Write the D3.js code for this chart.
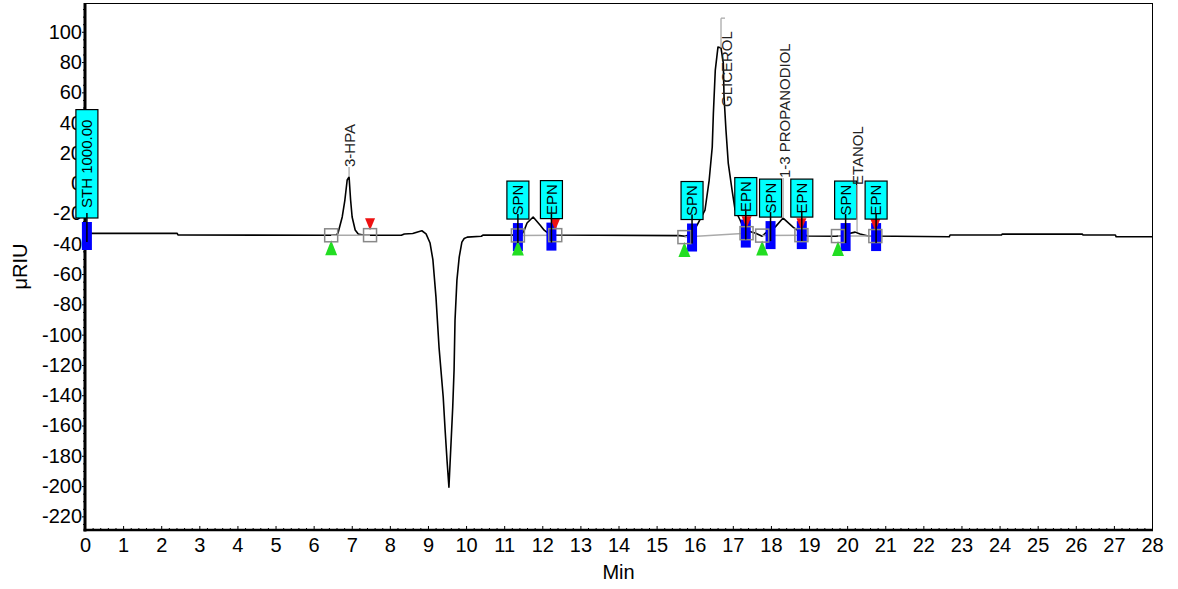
<!DOCTYPE html>
<html><head><meta charset="utf-8">
<script src="https://cdn.jsdelivr.net/npm/d3@7"></script>
<style>
body{margin:0;background:#fff}
svg{display:block}
text{font-family:"Liberation Sans",Arial,Helvetica,sans-serif}
</style>
</head><body>
<svg id="c" width="1178" height="589"></svg>
<script>
// ---- data ----
const traceTime = [0,2.42,2.44,6.45,6.6,6.64,6.75,6.82,6.88,6.93,6.97,7.01,7.09,7.17,7.3,8.3,8.38,8.6,8.75,8.84,8.95,9.055,9.13,9.21,9.29,9.40,9.45,9.50,9.55,9.60,9.65,9.685,9.71,9.76,9.82,9.89,9.95,10.03,10.4,10.45,11.45,11.52,11.6,11.76,11.94,12.05,12.15,12.3,15.6,15.75,15.9,16.0,16.09,16.27,16.38,16.46,16.49,16.54,16.61,16.69,16.75,16.77,16.82,16.88,16.98,17.06,17.19,17.27,17.4,17.6,17.77,17.9,18.11,18.32,18.58,18.77,18.95,19.7,19.9,20.0,20.21,20.34,20.55,22.68,22.7,24.05,24.07,26.17,26.19,27.04,27.06,28];
const traceSignal = [-33.1,-33.1,-34.2,-34.4,-34.0,-32.9,-22.3,-11.1,2.1,4.1,-11.1,-22.3,-30.9,-33.6,-34.3,-34.4,-33.5,-33.2,-32.0,-31.4,-33.5,-39.5,-50.7,-75.2,-108.2,-141.2,-163,-182.9,-200.7,-174.3,-147.8,-123.4,-90.4,-64,-48.8,-38.9,-36.5,-35.6,-35.0,-34.2,-34.3,-31.5,-26.3,-22.3,-27.6,-31.0,-32.9,-34.2,-34.6,-35.0,-33.5,-30.5,-26.3,-17.7,2.1,23.9,46.3,74.7,89.9,89.3,79.4,56.9,35.1,13.3,-4.5,-17.7,-24.3,-29,-31.5,-33,-35,-32,-29,-23,-29,-32.3,-34.9,-35.0,-34.5,-33.6,-32.3,-33.6,-34.9,-35.4,-34.2,-34.2,-33.6,-33.6,-34.2,-34.2,-35.4,-35.4];

const xTickLabels = [0,1,2,3,4,5,6,7,8,9,10,11,12,13,14,15,16,17,18,19,20,21,22,23,24,25,26,27,28];
const yTickLabels = [100,80,60,40,20,0,-20,-40,-60,-80,-100,-120,-140,-160,-180,-200,-220];

// timed events (blue bars with cyan tags)
const eventLabels = ["STH 1000.00","SPN","EPN","SPN","EPN","SPN","EPN","SPN","EPN"];
const eventTimes  = [0.05,11.36,12.24,15.93,17.34,17.99,18.81,19.96,20.76];
const eventValues = [-34.2,-34.9,-34.6,-35.2,-32.6,-33.6,-33.6,-34.9,-34.9];

// integration start / end marks
const startTimes  = [6.46,11.36,15.73,17.77,19.76];
const startValues = [-34.4,-34.5,-35.6,-34.6,-34.9];
const endTimes    = [7.48,12.34,17.36,18.80,20.74];
const endValues   = [-34.3,-34.3,-33.0,-34.3,-34.9];

// named peaks
const peakNames       = ["3-HPA","GLICEROL","1-3 PROPANODIOL","ETANOL"];
const peakTimes       = [6.93,16.69,18.32,20.26];
const peakValues      = [4.1,89.5,-23,-32.3];
const peakLabelTimes  = [6.955,16.85,18.37,20.29];
const peakLabelValues = [10.7,50.3,3.4,-1.2];
const peakLineTops    = [10.7,109,3.4,-1.2];

// ---- chart ----
const svg = d3.select("#c");
const L = 85, R = 1152, T = 3, B = 530;
const x = d3.scaleLinear().domain([0,28]).range([L,R]);
const y = d3.scaleLinear().domain([-229,119]).range([B,T]);

// frame
svg.append("line").attr("x1",L).attr("x2",R).attr("y1",T+0.5).attr("y2",T+0.5).attr("stroke","#000").attr("stroke-width",1);
svg.append("line").attr("x1",R+0.5).attr("x2",R+0.5).attr("y1",T).attr("y2",B).attr("stroke","#000").attr("stroke-width",1);

// y axis
const minorY = d3.range(-225,120,5).filter(v=>v%20!==0);
const gyMinor = svg.append("g").attr("transform",`translate(${L},0)`)
  .call(d3.axisLeft(y).tickValues(minorY).tickSize(2).tickFormat(""));
gyMinor.select(".domain").remove();
gyMinor.selectAll("line").attr("stroke","#000");
const gy = svg.append("g").attr("transform",`translate(${L},0)`)
  .call(d3.axisLeft(y).tickValues(yTickLabels).tickSize(3).tickPadding(0).tickFormat(d=>d));
gy.select(".domain").remove();
gy.selectAll("text").attr("font-size",20).attr("fill","#000")
  .attr("font-family",'"Liberation Sans",Arial,sans-serif');
gy.selectAll("line").attr("stroke","#000");

// x axis
const minorX = d3.range(0,28.01,0.2).filter(v=>Math.abs(v-Math.round(v))>0.01);
const gxMinor = svg.append("g").attr("transform",`translate(0,${B})`)
  .call(d3.axisBottom(x).tickValues(minorX).tickSize(-2).tickFormat(""));
gxMinor.select(".domain").remove();
gxMinor.selectAll("line").attr("stroke","#000");
const gx = svg.append("g").attr("transform",`translate(0,${B})`)
  .call(d3.axisBottom(x).tickValues(xTickLabels).tickSize(-4).tickPadding(8).tickFormat(d=>d));
gx.select(".domain").remove();
gx.selectAll("text").attr("font-size",20).attr("fill","#000")
  .attr("font-family",'"Liberation Sans",Arial,sans-serif');
gx.selectAll("line").attr("stroke","#000");

// thick axis lines
svg.append("line").attr("x1",L).attr("x2",L).attr("y1",T).attr("y2",B+1.5).attr("stroke","#000").attr("stroke-width",3);
svg.append("line").attr("x1",L-1.5).attr("x2",R+1).attr("y1",B).attr("y2",B).attr("stroke","#000").attr("stroke-width",2.5);

// axis titles
svg.append("text").attr("transform",`translate(27,${(T+B)/2}) rotate(-90)`)
  .attr("text-anchor","middle").attr("font-size",20).text("μRIU");
svg.append("text").attr("x",(L+R)/2).attr("y",579).attr("text-anchor","middle")
  .attr("font-size",20).text("Min");

// trace
const pts = traceTime.map((t,i)=>[t,traceSignal[i]]);
svg.append("path").datum(pts)
  .attr("d",d3.line().x(d=>x(d[0])).y(d=>y(d[1])))
  .attr("fill","none").attr("stroke","#000").attr("stroke-width",1.6).attr("stroke-linejoin","round");

// gray integration baselines
startTimes.forEach((t,i)=>{
  svg.append("line").attr("x1",x(t)).attr("y1",y(startValues[i]))
    .attr("x2",x(endTimes[i])).attr("y2",y(endValues[i]))
    .attr("stroke","#aaa").attr("stroke-width",1.5);
});

// blue event bars
const ev = eventTimes.map((t,i)=>({t,v:eventValues[i],label:eventLabels[i]}));
ev.forEach(d=>{
  const cx = x(d.t), cy = y(d.v);
  svg.append("rect").attr("x",cx-5).attr("y",cy-13).attr("width",10).attr("height",28).attr("fill","#0000ff");
});

// triangles
startTimes.forEach((t,i)=>{
  const cx=x(t), cy=y(startValues[i]);
  svg.append("path").attr("d",`M${cx},${cy+5}L${cx+6},${cy+20}L${cx-6},${cy+20}Z`).attr("fill","#22dd22");
});
endTimes.forEach((t,i)=>{
  const cx=x(t), cy=y(endValues[i]);
  svg.append("path").attr("d",`M${cx-5},${cy-17}L${cx+5},${cy-17}L${cx},${cy-5}Z`).attr("fill","#ee1111");
});

// squares
[...startTimes.map((t,i)=>[t,startValues[i]]), ...endTimes.map((t,i)=>[t,endValues[i]])].forEach(d=>{
  svg.append("rect").attr("x",x(d[0])-6.5).attr("y",y(d[1])-6.5).attr("width",13).attr("height",13)
    .attr("fill","none").attr("stroke","#888").attr("stroke-width",1.5);
});

// cyan tags
ev.forEach(d=>{
  const cx = x(d.t), cy = y(d.v);
  const g = svg.append("g");
  const txt = g.append("text").attr("font-size",15).text(d.label);
  const len = txt.node().getComputedTextLength();
  const h = len > 60 ? len + 20 : 38;
  const bottom = cy - 17, top = bottom - h;
  g.insert("rect","text").attr("x",cx-11).attr("y",top).attr("width",22).attr("height",h)
    .attr("fill","#00ffff").attr("stroke","#000").attr("stroke-width",1.2);
  txt.attr("transform",`translate(${cx},${(top+bottom)/2}) rotate(-90)`)
    .attr("text-anchor","middle").attr("dy","0.35em").attr("fill","#000");
  g.append("line").attr("x1",cx).attr("x2",cx).attr("y1",bottom-5).attr("y2",cy+7)
    .attr("stroke","#000").attr("stroke-width",1.5);
});

// peak labels
peakNames.forEach((n,i)=>{
  const px = x(peakTimes[i]);
  const topY = y(peakLineTops[i]);
  svg.append("line").attr("x1",px).attr("x2",px).attr("y1",y(peakValues[i])).attr("y2",topY)
    .attr("stroke","#aaa").attr("stroke-width",1.3);
  if (peakLineTops[i] !== peakLabelValues[i]) {
    svg.append("line").attr("x1",px).attr("x2",px+4).attr("y1",topY).attr("y2",topY)
      .attr("stroke","#aaa").attr("stroke-width",1.3);
  }
  svg.append("text")
    .attr("transform",`translate(${x(peakLabelTimes[i])},${y(peakLabelValues[i])}) rotate(-90)`)
    .attr("dy","0.35em").attr("font-size",15).attr("fill","#222").text(n);
});
</script>
</body></html>
